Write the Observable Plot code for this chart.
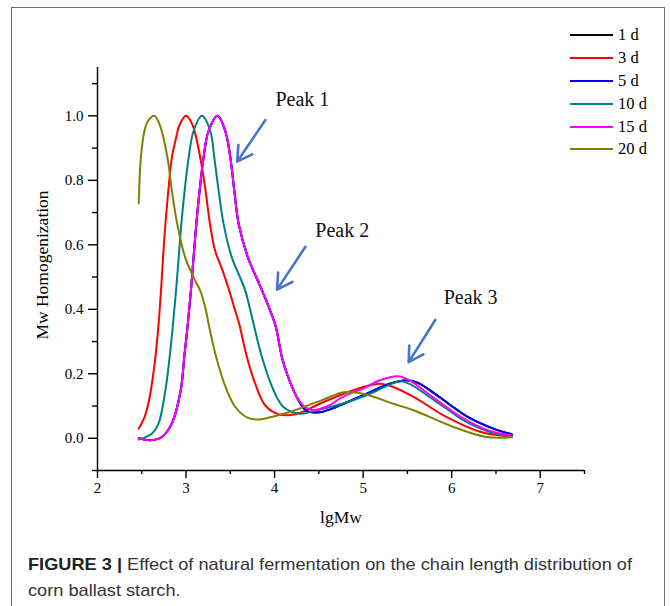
<!DOCTYPE html>
<html>
<head>
<meta charset="utf-8">
<script src="https://cdn.jsdelivr.net/npm/d3@7"></script>
<script src="https://cdn.jsdelivr.net/npm/@observablehq/plot@0.6"></script>
<style>
  html, body { margin: 0; padding: 0; background: #fff; }
  body { width: 670px; height: 606px; overflow: hidden; position: relative; font-family: "Liberation Serif", "Times New Roman", serif; }
  #chart { position: absolute; left: 0; top: 0; }
  #chart svg { background: transparent !important; }
  #frame { position: absolute; left: 11px; top: 7px; width: 654px; height: 640px; border: 1px solid #6e6e6e; box-sizing: border-box; pointer-events: none; }
  #legend { position: absolute; left: 570px; top: 24px; font-family: "Liberation Serif", serif; font-size: 16.5px; color: #000; }
  #legend .row { height: 22.8px; display: flex; align-items: center; }
  #legend .sw { width: 43px; height: 0; border-top: 2px solid; margin-right: 5px; }
  #caption { position: absolute; left: 28px; top: 552px; font-family: "Liberation Sans", Arial, sans-serif; font-size: 17px; line-height: 26px; color: #333; white-space: nowrap; transform-origin: 0 0; }
  #caption b { color: #222; }
</style>
</head>
<body>
<div id="chart"></div>
<div id="legend"></div>
<div id="caption"><b>FIGURE 3 |</b> Effect of natural fermentation on the chain length distribution of<br>corn ballast starch.</div>
<div id="frame"></div>
<script>
// ---- data ----
const seriesNames = ["1 d", "3 d", "5 d", "10 d", "15 d", "20 d"];
const seriesColors = ["#000000", "#ff0000", "#0000ff", "#008080", "#ff00ff", "#808000"];

const x1d = [2.466, 2.597, 2.728, 2.84, 2.94, 2.98, 3.02, 3.055, 3.085, 3.116, 3.153, 3.198, 3.254, 3.356, 3.443, 3.50, 3.545, 3.594, 3.70, 3.76, 3.84, 3.93, 4.01, 4.082, 4.14, 4.25, 4.36, 4.51, 4.65, 4.78, 5.04, 5.30, 5.49, 5.62, 5.80, 6.00, 6.17, 6.47, 6.68];
const y1d = [0.0, -0.006, 0.004, 0.046, 0.149, 0.252, 0.355, 0.458, 0.561, 0.665, 0.768, 0.871, 0.953, 1.0, 0.953, 0.871, 0.768, 0.665, 0.56, 0.52, 0.47, 0.41, 0.35, 0.252, 0.2, 0.128, 0.085, 0.081, 0.092, 0.107, 0.138, 0.169, 0.18, 0.172, 0.14, 0.10, 0.068, 0.03, 0.012];

const x3d = [2.466, 2.53, 2.58, 2.62, 2.654, 2.69, 2.717, 2.74, 2.767, 2.80, 2.84, 2.88, 2.93, 3.0, 3.07, 3.16, 3.22, 3.27, 3.33, 3.40, 3.48, 3.55, 3.60, 3.68, 3.78, 3.90, 4.05, 4.18, 4.30, 4.51, 4.75, 5.0, 5.19, 5.34, 5.57, 5.94, 6.32, 6.68];
const y3d = [0.03, 0.065, 0.115, 0.18, 0.252, 0.355, 0.458, 0.561, 0.665, 0.768, 0.871, 0.923, 0.974, 1.0, 0.974, 0.871, 0.768, 0.665, 0.58, 0.53, 0.465, 0.40, 0.355, 0.26, 0.17, 0.10, 0.074, 0.072, 0.08, 0.107, 0.135, 0.159, 0.169, 0.159, 0.128, 0.066, 0.02, 0.005];

const x5d = [2.466, 2.597, 2.728, 2.84, 2.94, 2.98, 3.02, 3.055, 3.085, 3.116, 3.153, 3.198, 3.254, 3.356, 3.443, 3.50, 3.545, 3.594, 3.70, 3.76, 3.84, 3.93, 4.01, 4.082, 4.14, 4.25, 4.36, 4.51, 4.65, 4.78, 5.04, 5.30, 5.49, 5.62, 5.80, 6.00, 6.17, 6.47, 6.68];
const y5d = [0.0, -0.006, 0.004, 0.046, 0.149, 0.252, 0.355, 0.458, 0.561, 0.665, 0.768, 0.871, 0.953, 1.0, 0.953, 0.871, 0.768, 0.665, 0.56, 0.52, 0.47, 0.41, 0.35, 0.252, 0.2, 0.128, 0.085, 0.081, 0.092, 0.107, 0.138, 0.169, 0.18, 0.172, 0.14, 0.10, 0.068, 0.03, 0.012];

const x10d = [2.466, 2.616, 2.69, 2.767, 2.815, 2.853, 2.887, 2.917, 2.947, 2.984, 3.03, 3.085, 3.18, 3.274, 3.319, 3.368, 3.424, 3.517, 3.61, 3.669, 3.762, 3.857, 3.988, 4.10, 4.29, 4.45, 4.63, 4.85, 5.08, 5.25, 5.42, 5.55, 5.75, 5.95, 6.13, 6.40, 6.68];
const y10d = [-0.004, 0.015, 0.046, 0.149, 0.252, 0.355, 0.458, 0.561, 0.665, 0.768, 0.871, 0.953, 1.0, 0.953, 0.871, 0.768, 0.665, 0.561, 0.499, 0.458, 0.355, 0.252, 0.149, 0.097, 0.076, 0.085, 0.097, 0.115, 0.138, 0.160, 0.177, 0.165, 0.128, 0.09, 0.056, 0.022, 0.005];

const x15d = [2.466, 2.597, 2.728, 2.84, 2.94, 2.98, 3.02, 3.055, 3.085, 3.116, 3.153, 3.198, 3.254, 3.356, 3.443, 3.50, 3.545, 3.594, 3.70, 3.76, 3.84, 3.93, 4.01, 4.082, 4.14, 4.25, 4.345, 4.44, 4.60, 4.75, 4.89, 5.0, 5.19, 5.40, 5.55, 5.75, 5.95, 6.13, 6.40, 6.68];
const y15d = [0.0, -0.006, 0.004, 0.046, 0.149, 0.252, 0.355, 0.458, 0.561, 0.665, 0.768, 0.871, 0.953, 1.0, 0.953, 0.871, 0.768, 0.665, 0.56, 0.52, 0.47, 0.41, 0.35, 0.252, 0.2, 0.128, 0.097, 0.087, 0.10, 0.125, 0.143, 0.154, 0.18, 0.192, 0.175, 0.135, 0.095, 0.062, 0.026, 0.008];

const x20d = [2.466, 2.49, 2.53, 2.57, 2.643, 2.70, 2.79, 2.84, 2.90, 2.99, 3.085, 3.16, 3.217, 3.255, 3.34, 3.46, 3.556, 3.687, 3.80, 3.95, 4.15, 4.33, 4.55, 4.78, 5.0, 5.34, 5.57, 6.02, 6.39, 6.68];
const y20d = [0.728, 0.871, 0.953, 0.984, 1.0, 0.974, 0.871, 0.768, 0.665, 0.561, 0.499, 0.458, 0.406, 0.355, 0.252, 0.149, 0.097, 0.065, 0.058, 0.065, 0.08, 0.097, 0.12, 0.143, 0.138, 0.107, 0.087, 0.035, 0.004, 0.003];

// axis ticks and titles
const xMajorTicks = [2, 3, 4, 5, 6, 7];
const xMinorTicks = [2.5, 3.5, 4.5, 5.5, 6.5, 7.5];
const yMajorTicks = [0.0, 0.2, 0.4, 0.6, 0.8, 1.0];
const yMinorTicks = [-0.1, 0.1, 0.3, 0.5, 0.7, 0.9, 1.1];
const xDomain = [2, 7.5];
const yDomain = [-0.1, 1.15];
const xTitle = "lgMw";
const yTitle = "Mw Homogenization";

// annotations (data coordinates)
const peakLabels = ["Peak 1", "Peak 2", "Peak 3"];
const peakLabelX = [4.01, 4.46, 5.91];
const peakLabelY = [1.052, 0.644, 0.437];
const arrowX1 = [3.896, 4.348, 5.815];
const arrowY1 = [0.987, 0.594, 0.367];
const arrowX2 = [3.577, 4.028, 5.514];
const arrowY2 = [0.858, 0.461, 0.236];

const xs = [x1d, x3d, x5d, x10d, x15d, x20d];
const ys = [y1d, y3d, y5d, y10d, y15d, y20d];

const rows = seriesNames.flatMap((name, i) => xs[i].map((x, j) => ({series: name, x, y: ys[i][j]})));
const peaks = peakLabels.map((t, i) => ({t, x: peakLabelX[i], y: peakLabelY[i]}));
const arrows = peakLabels.map((t, i) => ({x1: arrowX1[i], y1: arrowY1[i], x2: arrowX2[i], y2: arrowY2[i]}));

const serif = "'Liberation Serif', 'Times New Roman', serif";

const chart = Plot.plot({
  width: 670,
  height: 540,
  marginLeft: 97,
  marginRight: 86,
  marginTop: 67,
  marginBottom: 70,
  style: {fontFamily: serif, fontSize: "15px", color: "#000", background: "transparent", overflow: "visible"},
  x: {domain: xDomain},
  y: {domain: yDomain},
  color: {domain: seriesNames, range: seriesColors},
  marks: [
    Plot.ruleY([yDomain[0]], {stroke: "#000", strokeWidth: 1.4}),
    Plot.ruleX([xDomain[0]], {stroke: "#000", strokeWidth: 1.4}),
    Plot.axisX({ticks: xMinorTicks, tickSize: 4, tickFormat: () => "", strokeWidth: 1.4, label: null}),
    Plot.axisX({ticks: xMajorTicks, tickSize: 8, tickPadding: 4, strokeWidth: 1.4, fontSize: 15, fontFamily: serif,
      tickFormat: d3.format("d"), label: null}),
    Plot.axisY({ticks: yMinorTicks, tickSize: 5, tickFormat: () => "", strokeWidth: 1.4, label: null}),
    Plot.axisY({ticks: yMajorTicks, tickSize: 9, tickPadding: 5, strokeWidth: 1.4, fontSize: 15, fontFamily: serif,
      tickFormat: d3.format(".1f"), label: null}),
    Plot.text([xTitle], {frameAnchor: "bottom", dy: 52, fontSize: 17.5, fontFamily: serif, fill: "#000"}),
    Plot.text([yTitle], {frameAnchor: "left", textAnchor: "middle", dx: -55, dy: -4, rotate: -90, fontSize: 17.5, fontFamily: serif, fill: "#000"}),
    Plot.line(rows, {x: "x", y: "y", z: "series", stroke: "series", strokeWidth: 2, curve: "catmull-rom"}),
    Plot.arrow(arrows, {x1: "x1", y1: "y1", x2: "x2", y2: "y2", stroke: "#4a74c9", strokeWidth: 2.6, headLength: 10}),
    Plot.text(peaks, {x: "x", y: "y", text: "t", textAnchor: "start", fontSize: 20, fontFamily: serif, fill: "#111"})
  ]
});
document.getElementById("chart").appendChild(chart);

// legend
const legend = document.getElementById("legend");
seriesNames.forEach((name, i) => {
  const row = document.createElement("div");
  row.className = "row";
  const sw = document.createElement("span");
  sw.className = "sw";
  sw.style.borderTopColor = seriesColors[i];
  const lab = document.createElement("span");
  lab.textContent = name;
  row.appendChild(sw);
  row.appendChild(lab);
  legend.appendChild(row);
});

// fit caption width to the reference (first line spans ~604px)
const cap = document.getElementById("caption");
const w = cap.getBoundingClientRect().width;
if (w > 0) cap.style.transform = `scaleX(${604 / w})`;
</script>
</body>
</html>
